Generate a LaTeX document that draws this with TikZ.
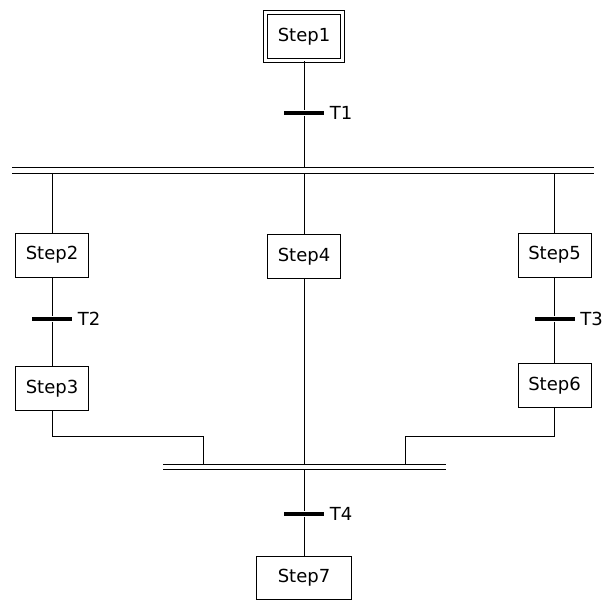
\documentclass[tikz,border=0pt]{standalone}
\usepackage{fontspec}
\setmainfont{DejaVu Sans}
\usetikzlibrary{positioning}
\begin{document}
\begin{tikzpicture}[
        x=0.75pt, y=-0.75pt, % координаты в пикселях
        every node/.style = {font=\fontsize{13.5}{16}\selectfont},
        link/.style = {draw, line width=0.75pt}, % связи
        stepbox/.style = {draw, line width=0.75pt, minimum width=54.75pt, minimum height=33pt, inner sep=0pt}, % Стиль шагов
        initstep/.style = {stepbox, double, double distance=2.25pt, minimum width=57.75pt, minimum height=36pt}, % начальный шаг
        trans/.style = {fill=black, minimum width=30pt, minimum height=3.5pt, inner sep=0pt}, % переход
        tlabel/.style = {label distance=4pt, inner sep=0pt},
        sync/.style = {draw, line width=0.75pt, double, double distance=3.2pt}, % двойная линия
    ]
    \useasboundingbox (0,0) rectangle (606,601);

    \node[initstep] (s1) at (304,36.5) {Step1};
    \node[trans, label={[tlabel]right:T1}] (t1) at (304,113) {};
    \coordinate (b1l) at (12,170.5);
    \coordinate (b1r) at (594,170.5);

    \node[stepbox] (s2) at (52,255) {Step2};
    \node[trans, label={[tlabel]right:T2}] (t2) at (52,319) {};
    \node[stepbox] (s3) at (52,388.5) {Step3};

    \node[stepbox] (s4) at (304,256.5) {Step4};

    \node[stepbox] (s5) at (554.5,255) {Step5};
    \node[trans, label={[tlabel]right:T3}] (t3) at (554.5,319) {};
    \node[stepbox] (s6) at (554.5,385.5) {Step6};

    \coordinate (j1) at (203,436.5);
    \coordinate (j2) at (405,436.5);
    \coordinate (b2l) at (163,467);
    \coordinate (b2r) at (446,467);

    \node[trans, label={[tlabel]right:T4}] (t4) at (304,514) {};
    \node[stepbox, minimum width=71.25pt, minimum height=32.25pt] (s7) at (304,577.5) {Step7};

    % связи
    \draw[link] (s1) -- (t1) -- (t1 |- b1l);
    \draw[link] (s2 |- b1l) -- (s2);
    \draw[link] (s4 |- b1l) -- (s4);
    \draw[link] (s5 |- b1l) -- (s5);
    \draw[link] (s2) -- (t2) -- (s3);
    \draw[link] (s5) -- (t3) -- (s6);
    \draw[link] (s3) |- (j1) -- (j1 |- b2l);
    \draw[link] (s6) |- (j2) -- (j2 |- b2l);
    \draw[link] (s4) -- (s4 |- b2l);
    \draw[link] (t4 |- b2l) -- (t4) -- (s7);

    % двойные линии
    \draw[sync] (b1l) -- (b1r);
    \draw[sync] (b2l) -- (b2r);
\end{tikzpicture}
\end{document}
